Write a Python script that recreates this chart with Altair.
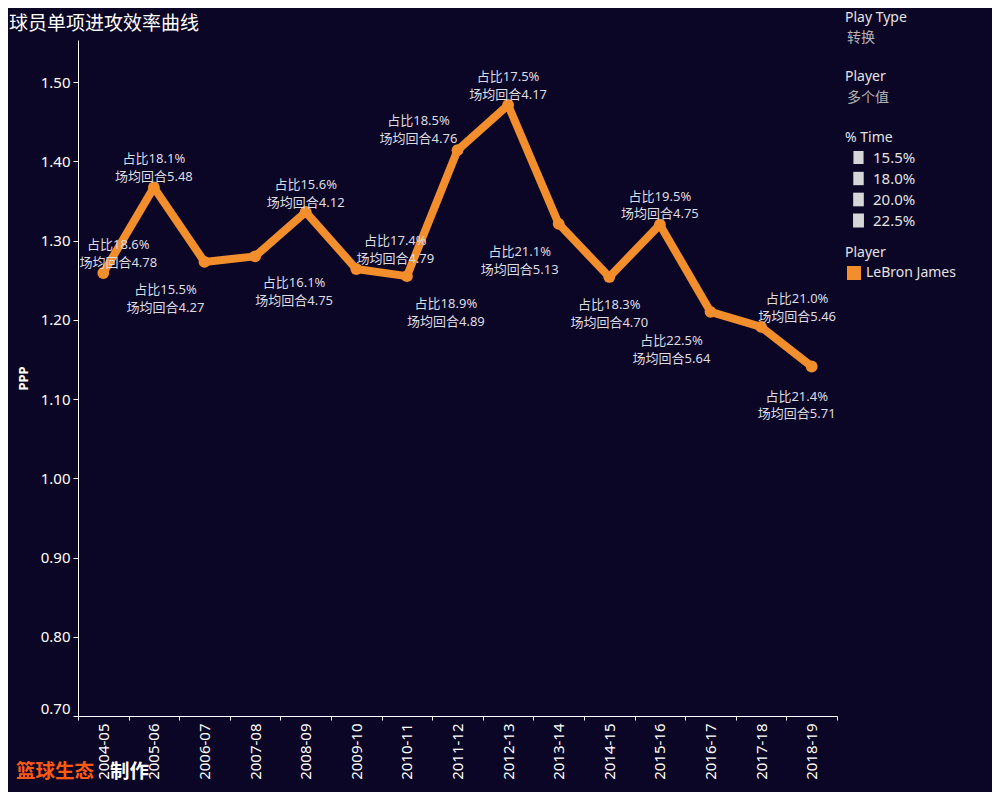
import altair as alt
import pandas as pd

# ---------------- data ----------------
SEASONS = ["2004-05", "2005-06", "2006-07", "2007-08", "2008-09", "2009-10", "2010-11",
           "2011-12", "2012-13", "2013-14", "2014-15", "2015-16", "2016-17", "2017-18", "2018-19"]
PPP = [1.259, 1.367, 1.273, 1.280, 1.336, 1.264, 1.255, 1.414, 1.471, 1.321, 1.254, 1.320,
       1.210, 1.191, 1.141]
PCT_TIME = [18.6, 18.1, 15.5, 16.1, 15.6, 17.4, 18.9, 18.5, 17.5, 21.1, 18.3, 19.5, 22.5, 21.0, 21.4]
POSS_PER_GAME = [4.78, 5.48, 4.27, 4.75, 4.12, 4.79, 4.89, 4.76, 4.17, 5.13, 4.70, 4.75, 5.64, 5.46, 5.71]
PLAYER = ["LeBron James"] * len(SEASONS)
Y_TICKS = [0.70, 0.80, 0.90, 1.00, 1.10, 1.20, 1.30, 1.40, 1.50]
PCT_LEGEND_VALUES = [15.5, 18.0, 20.0, 22.5]
CHART_TITLE = "球员单项进攻效率曲线"
FILTER_CARDS = [("Play Type", "转换"), ("Player", "多个值")]
CREDIT = ("篮球生态", "制作")

df = pd.DataFrame({"season": SEASONS, "ppp": PPP, "pct": PCT_TIME,
                   "poss": POSS_PER_GAME, "player": PLAYER})

# ---------------- layout / style ----------------
BG = "#0b0626"
ORANGE = "#f28e2b"
WHITE = "#ffffff"
LABEL_C = "#dcdce2"
LEG_C = "#e2e2e2"
CARD_VAL_C = "#b4b4b4"
FONT = "Noto Sans, Noto Sans CJK SC"
CJK = "Noto Sans CJK SC"
W, H = 759, 676
PAD = {"left": 70, "top": 32, "right": 155, "bottom": 76}
BAR_PATH = "M-0.78,-1L0.78,-1L0.78,1L-0.78,1Z"

# label offsets (dx, dy) per season, mimicking the reference label placement
LABEL_PLACEMENT = {
    "2004-05": (15, -28), "2005-06": (0, -28), "2006-07": (-39, 28), "2007-08": (39, 27),
    "2008-09": (0, -27), "2009-10": (39, -28), "2010-11": (39, 28), "2011-12": (-39, -29),
    "2012-13": (0, -28), "2013-14": (-39, 28), "2014-15": (0, 28), "2015-16": (0, -28),
    "2016-17": (-39, 29), "2017-18": (36, -28), "2018-19": (-15, 30),
}

x_enc = alt.X("season:N", sort=SEASONS,
              scale=alt.Scale(type="band", paddingInner=0, paddingOuter=0),
              axis=alt.Axis(title=None, labelAngle=-90, labelAlign="right", labelBaseline="middle",
                            tickBand="extent", tickSize=4, labelPadding=3, labelFontSize=15,
                            labelColor=WHITE, labelFont=FONT, domainColor=WHITE, tickColor=WHITE,
                            grid=False))
y_enc = alt.Y("ppp:Q",
              scale=alt.Scale(domain=[0.70, 1.553], nice=False, zero=False),
              axis=alt.Axis(values=Y_TICKS, format=".2f", title="PPP", grid=False,
                            labelFlush=True, labelFontSize=15, labelColor=WHITE, labelFont=FONT,
                            tickSize=5, labelPadding=3, domainColor=WHITE, tickColor=WHITE,
                            titleColor=WHITE, titleFont=FONT, titleFontSize=13,
                            titleFontWeight="bold", titlePadding=10))

base = alt.Chart(df)

line = base.mark_line(color=ORANGE, strokeWidth=8, strokeJoin="round", strokeCap="round").encode(
    x=x_enc, y=y_enc)

dots = base.mark_circle(size=140, opacity=1).encode(
    x=x_enc, y=y_enc,
    color=alt.Color("player:N", scale=alt.Scale(range=[ORANGE]),
                    legend=alt.Legend(title="Player", orient="none", legendX=767, legendY=206,
                                      symbolType="square", symbolSize=196, symbolStrokeWidth=0,
                                      symbolOffset=2, labelOffset=5, padding=0, titlePadding=6,
                                      titleFontSize=14, labelFontSize=14, titleFont=FONT,
                                      labelFont=FONT, titleFontWeight="normal",
                                      titleColor=LEG_C, labelColor=LEG_C)))

size_layer = base.mark_point(filled=True, opacity=0, shape=BAR_PATH, color="#d6d6d6").encode(
    x=x_enc, y=y_enc,
    size=alt.Size("pct:Q", scale=alt.Scale(domain=[15.5, 22.5], range=[169, 196], zero=False),
                  legend=alt.Legend(title="% Time", orient="none", legendX=767, legendY=91,
                                    values=PCT_LEGEND_VALUES,
                                    labelExpr="format(datum.value, '.1f') + '%'",
                                    symbolType=BAR_PATH, symbolFillColor="#d6d6d6",
                                    symbolStrokeColor="#d6d6d6", symbolStrokeWidth=0,
                                    symbolOpacity=1, symbolOffset=6, labelOffset=7,
                                    rowPadding=5, padding=0, titlePadding=5,
                                    titleFontSize=14, labelFontSize=15, titleFont=FONT,
                                    labelFont=FONT, titleFontWeight="normal",
                                    titleColor=LEG_C, labelColor=LEG_C)))

groups = {}
for s in SEASONS:
    groups.setdefault(LABEL_PLACEMENT[s], []).append(s)

label_layers = []
for (dx, dy), ss in groups.items():
    label_layers.append(
        base.transform_filter(alt.FieldOneOfPredicate(field="season", oneOf=ss))
        .transform_calculate(
            label="['占比' + format(datum.pct, '.1f') + '%', '场均回合' + format(datum.poss, '.2f')]")
        .mark_text(dx=dx, dy=dy, fontSize=13, lineHeight=17.7, color=LABEL_C, font=FONT,
                   baseline="middle", align="center")
        .encode(x=x_enc, y=y_enc, text="label:N"))


def note(text, x, y, size, color, weight="normal", font=FONT, align="left"):
    return alt.Chart(pd.DataFrame({"t": [text]})).mark_text(
        align=align, baseline="middle", fontSize=size, color=color, fontWeight=weight, font=font
    ).encode(x=alt.value(x), y=alt.value(y), text="t:N")


notes = [
    note(CHART_TITLE, -69, -16, 19, WHITE, font=CJK),
    note(FILTER_CARDS[0][0], 767, -22, 14, LEG_C),
    note(FILTER_CARDS[0][1], 769, -2, 14, CARD_VAL_C, font=CJK),
    note(FILTER_CARDS[1][0], 767, 37, 14, LEG_C),
    note(FILTER_CARDS[1][1], 769, 58, 14, CARD_VAL_C, font=CJK),
    note(CREDIT[0], -62, 732, 19.5, "#ff5a14", weight="bold", font=CJK),
    note(CREDIT[1], 32, 732, 19.5, WHITE, weight="bold", font=CJK),
]

chart = alt.layer(line, dots, size_layer, *label_layers, *notes).properties(
    width=W, height=H, background=BG, padding=PAD,
    autosize=alt.AutoSizeParams(type="none"),
).configure_view(stroke=None).resolve_legend(color="independent", size="independent")

chart.save("out.html", embed_options={"renderer": "svg", "actions": False})
